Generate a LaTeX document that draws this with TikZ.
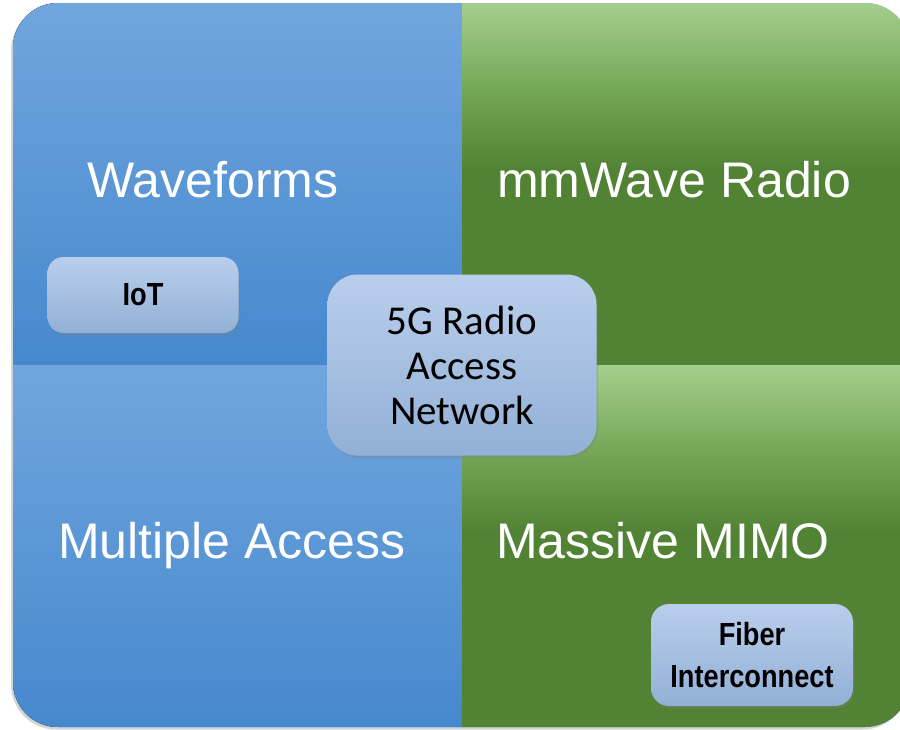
\documentclass[tikz,border=0pt]{standalone}
\usepackage{fontspec}
\setmainfont{Liberation Sans}
\newfontfamily\centerfont{Carlito}
\newfontfamily\narrowfont[FakeStretch=0.85]{Liberation Sans Bold}
\usetikzlibrary{shadows}

\definecolor{bluetop}{RGB}{112,166,221}
\definecolor{bluebottom}{RGB}{70,136,206}
\definecolor{greentop}{RGB}{164,206,140}
\definecolor{greenmid}{RGB}{120,170,92}
\definecolor{greenbottom}{RGB}{82,130,52}
\definecolor{boxtop}{RGB}{186,206,236}
\definecolor{boxbottom}{RGB}{146,176,214}

% green quadrants darken over their upper half, then stay dark
\pgfdeclareverticalshading{greenfade}{100bp}{color(0bp)=(greenbottom); color(25bp)=(greenbottom);
  color(52bp)=(greenbottom); color(64bp)=(greenmid); color(75bp)=(greentop); color(100bp)=(greentop)}

\tikzset{
  quadtitle/.style={text=white, font=\fontsize{50}{60}\selectfont, anchor=base, inner sep=0pt},
  tilebox/.style={rounded corners=#1, top color=boxtop, bottom color=boxbottom,
    drop shadow={opacity=0.3, shadow xshift=1.5pt, shadow yshift=-2.5pt},
    align=center, inner sep=0pt, text=black},
  tilebox/.default=16pt,
}

\begin{document}
\begin{tikzpicture}[x=1pt,y=-1pt]
    \useasboundingbox (0,0) rectangle (900,729);
    % outer shape with its shadow
    \path[rounded corners=45pt, fill=bluebottom,
      drop shadow={opacity=0.35, shadow xshift=-2pt, shadow yshift=-2.5pt}] (13,3) rectangle (910,727);
    \begin{scope}
        \clip[rounded corners=45pt] (13,3) rectangle (910,727);
        \fill[top color=bluetop, bottom color=bluebottom] (13,3) rectangle (462,365);
        \fill[top color=bluetop, bottom color=bluebottom] (13,365) rectangle (462,727);
        \shade[shading=greenfade] (462,3) rectangle (910,365);
        \shade[shading=greenfade] (462,365) rectangle (910,727);
    \end{scope}
    % quadrant titles
    \node[quadtitle] (wave) at (213,197) {Waveforms};
    \node[quadtitle] (mmw) at (674,197) {mmWave Radio};
    \node[quadtitle] (mult) at (232,558) {Multiple Access};
    \node[quadtitle] (mimo) at (663,558) {Massive MIMO};
    % boxes
    \node[tilebox, minimum width=191pt, minimum height=76pt,
      font=\narrowfont\fontsize{32}{42}\selectfont] (iot) at (143,295) {IoT};
    \node[tilebox=30pt, minimum width=269pt, minimum height=181pt,
      font=\centerfont\fontsize{41}{45}\selectfont] (ran) at (462,365) {5G Radio\\Access\\Network};
    \node[tilebox=18pt, minimum width=202pt, minimum height=102pt,
      font=\narrowfont\fontsize{32}{42}\selectfont] (fiber) at (752,655) {Fiber\\Interconnect};
\end{tikzpicture}
\end{document}
